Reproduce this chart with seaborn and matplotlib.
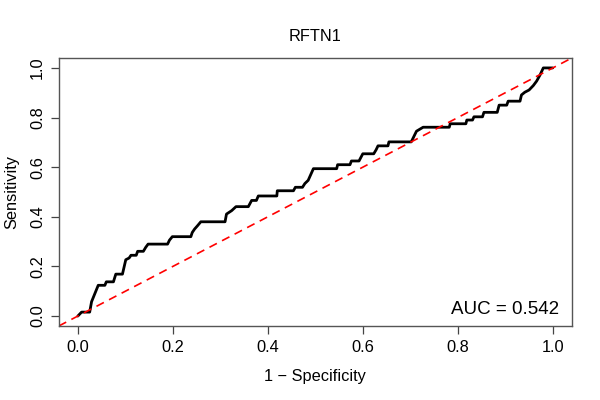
import pandas as pd
import seaborn as sns
import matplotlib
matplotlib.use("Agg")
import matplotlib.pyplot as plt

# ROC curve points (1 - specificity, sensitivity)
fpr = [0.0, 0.008, 0.025, 0.029, 0.043, 0.057, 0.060, 0.075, 0.080, 0.094,
       0.101, 0.108, 0.112, 0.123, 0.126, 0.138, 0.143, 0.148, 0.189, 0.193,
       0.199, 0.238, 0.241, 0.246, 0.252, 0.259, 0.310, 0.313, 0.324, 0.333,
       0.359, 0.366, 0.376, 0.380, 0.419, 0.420, 0.454, 0.458, 0.473, 0.478,
       0.485, 0.496, 0.545, 0.547, 0.573, 0.576, 0.592, 0.600, 0.623, 0.628,
       0.632, 0.653, 0.655, 0.702, 0.713, 0.727, 0.782, 0.784, 0.817, 0.819,
       0.831, 0.834, 0.852, 0.855, 0.883, 0.887, 0.903, 0.906, 0.931, 0.934,
       0.941, 0.950, 0.959, 0.966, 0.973, 0.980, 1.0]
tpr = [0.0, 0.016, 0.016, 0.058, 0.124, 0.124, 0.138, 0.138, 0.169, 0.169,
       0.227, 0.234, 0.245, 0.245, 0.261, 0.261, 0.277, 0.290, 0.290, 0.306,
       0.320, 0.320, 0.337, 0.351, 0.364, 0.380, 0.380, 0.411, 0.425, 0.441,
       0.441, 0.466, 0.466, 0.484, 0.484, 0.505, 0.505, 0.519, 0.519, 0.534,
       0.547, 0.594, 0.594, 0.610, 0.610, 0.625, 0.625, 0.654, 0.654, 0.670,
       0.686, 0.686, 0.702, 0.702, 0.745, 0.761, 0.761, 0.775, 0.775, 0.790,
       0.790, 0.803, 0.803, 0.821, 0.821, 0.850, 0.850, 0.866, 0.866, 0.891,
       0.902, 0.911, 0.929, 0.947, 0.971, 1.0, 1.0]
gene = "RFTN1"
auc = 0.542
ticks = [0.0, 0.2, 0.4, 0.6, 0.8, 1.0]

df = pd.DataFrame({"fpr": fpr, "tpr": tpr})

sns.set_theme(style="white")
plt.rcParams["font.family"] = ["Liberation Sans", "DejaVu Sans"]
plt.rcParams["text.color"] = "black"
plt.rcParams["axes.labelcolor"] = "black"

fig = plt.figure(figsize=(6, 4), dpi=100)
ax = fig.add_axes([0.098, 0.185, 0.855, 0.67])

sns.lineplot(data=df, x="fpr", y="tpr", sort=False, estimator=None,
             color="black", linewidth=2.0, ax=ax)
ax.axline((0, 0), slope=1, color="red", linewidth=1.2, dashes=(5, 3.5))

ax.set_xlim(-0.04, 1.04)
ax.set_ylim(-0.04, 1.04)
ax.set_xticks(ticks)
ax.set_yticks(ticks)
ax.set_xticklabels([f"{t:.1f}" for t in ticks])
ax.set_yticklabels([f"{t:.1f}" for t in ticks], rotation=90, va="center")
ax.tick_params(axis="both", direction="out", length=6, width=0.9,
               color="#444444", labelsize=11.8, labelcolor="black", pad=4,
               bottom=True, left=True)
for s in ax.spines.values():
    s.set_color("#555555")
    s.set_linewidth(1.0)

ax.set_xlabel("1 \u2212 Specificity", fontsize=11.8, labelpad=10)
ax.set_ylabel("Sensitivity", fontsize=11.8, labelpad=8)
ax.set_title(gene, fontsize=11.8, pad=12, color="black")
ax.text(0.975, 0.03, f"AUC = {auc:.3f}", transform=ax.transAxes,
        ha="right", va="bottom", fontsize=13.5)

fig.savefig("out.png", dpi=100)
